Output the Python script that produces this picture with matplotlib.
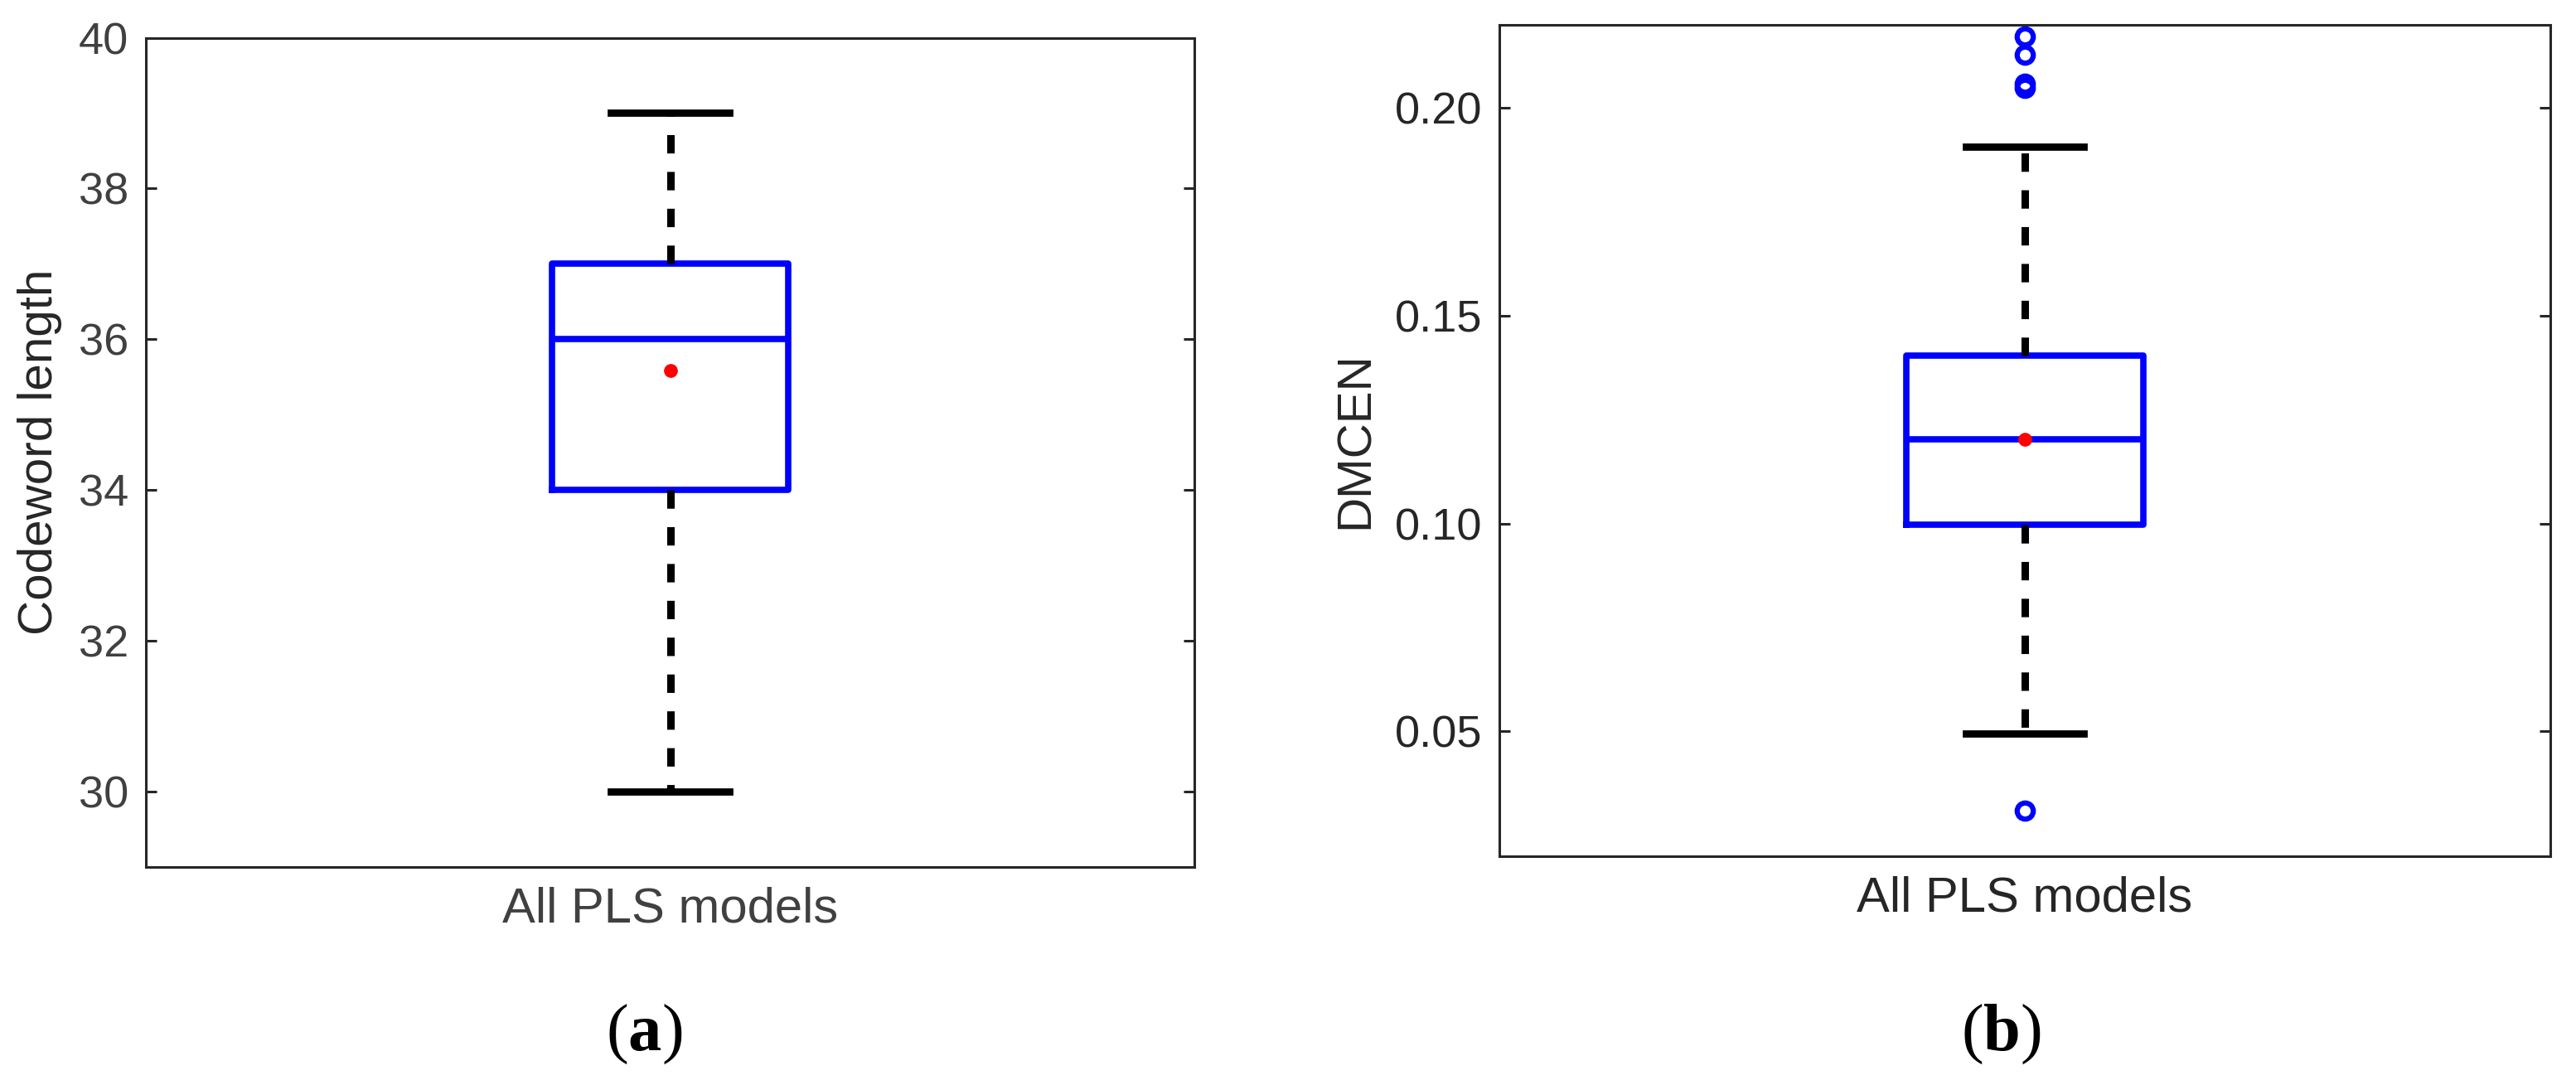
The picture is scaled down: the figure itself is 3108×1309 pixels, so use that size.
import matplotlib
matplotlib.use("Agg")
import matplotlib.pyplot as plt

# ---------------- data ----------------
categories = ["All PLS models"]

# whislo, q1, median, q3, whishi
codeword_box = [30, 34, 36, 37, 39]
codeword_mean = [35.59]
codeword_outliers = []

dmcen_box = [0.0494, 0.0997, 0.1202, 0.1404, 0.1906]
dmcen_mean = [0.1202]
dmcen_outliers = [0.0309, 0.2047, 0.2057, 0.2128, 0.2171]

codeword_ticks = [30, 32, 34, 36, 38, 40]
dmcen_ticks = [0.05, 0.10, 0.15, 0.20]
dmcen_ticklabels = ["0.05", "0.10", "0.15", "0.20"]

panel_labels = ["a", "b"]

# ---------------- style ----------------
plt.rcParams["font.family"] = ["Liberation Sans", "DejaVu Sans"]
plt.rcParams["lines.scale_dashes"] = False
plt.rcParams["mathtext.fontset"] = "custom"
plt.rcParams["mathtext.rm"] = "Liberation Serif"
plt.rcParams["mathtext.bf"] = "Liberation Serif:bold"

W, H = 3108, 1309
DPI = 100
fig = plt.figure(figsize=(W / DPI, H / DPI), dpi=DPI)

SPINE = "#262626"


def px_axes(l, r, t, b):
    return [l / W, 1 - b / H, (r - l) / W, (b - t) / H]


def make_stats(box, mean, fliers, label):
    return dict(whislo=box[0], q1=box[1], med=box[2], q3=box[3],
                whishi=box[4], mean=mean[0], fliers=fliers, label=label)


def draw(ax, stats, ylim, ticks, ticklabels, ylabel, tickcolor, labelcolor):
    ax.bxp([stats], positions=[1], widths=0.225, showmeans=True,
           showfliers=True,
           boxprops=dict(color="#0000FF", linewidth=5.5),
           medianprops=dict(color="#0000FF", linewidth=5.5),
           whiskerprops=dict(color="black", linewidth=6.5,
                             linestyle=(0, (16, 16))),
           capprops=dict(color="black", linewidth=6.3),
           meanprops=dict(marker="o", markerfacecolor="#FF0000",
                          markeredgecolor="#FF0000", markersize=11),
           flierprops=dict(marker="o", markerfacecolor="none",
                           markeredgecolor="#0000FF", markersize=14,
                           markeredgewidth=4.5))
    ax.set_xlim(0.5, 1.5)
    ax.set_ylim(*ylim)
    ax.set_yticks(ticks)
    ax.set_yticklabels(ticklabels)
    ax.set_xticks([1])
    ax.set_xticklabels(categories)
    for s in ax.spines.values():
        s.set_linewidth(2.2)
        s.set_color(SPINE)
    ax.tick_params(axis="y", direction="in", length=9.4, width=2.2,
                   left=True, right=True, labelsize=39, pad=15,
                   colors=SPINE, labelcolor=tickcolor)
    ax.tick_params(axis="x", length=0, labelsize=43, pad=17,
                   labelcolor=tickcolor)
    ax.set_ylabel(ylabel, fontsize=42, color=labelcolor, labelpad=14)


ax1 = fig.add_axes(px_axes(176, 1441, 45.5, 1046))
draw(ax1, make_stats(codeword_box, codeword_mean, codeword_outliers, categories[0]),
     (29, 40), codeword_ticks, [str(t) for t in codeword_ticks],
     "Codeword length", "#404040", "#262626")

ax2 = fig.add_axes(px_axes(1809, 3077, 29.5, 1033))
draw(ax2, make_stats(dmcen_box, dmcen_mean, dmcen_outliers, categories[0]),
     (0.02, 0.22), dmcen_ticks, dmcen_ticklabels,
     "DMCEN", "#262626", "#262626")

for xpx, lab in zip([777, 2414], panel_labels):
    fig.text(xpx / W, 1 - 1248 / H,
             r"$\mathrm{(}\mathbf{" + lab + r"}\mathrm{)}$",
             ha="center", va="center", fontsize=58, color="black")

fig.savefig("out.png", dpi=DPI)
